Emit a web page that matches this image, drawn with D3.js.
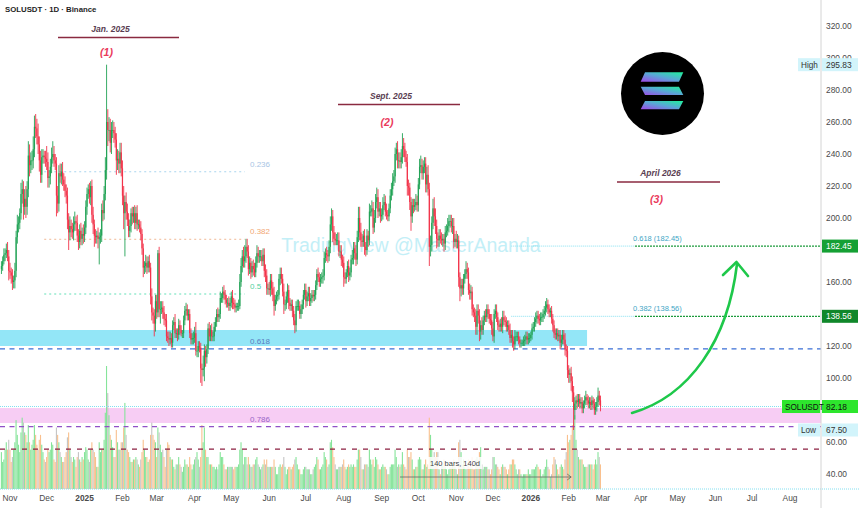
<!DOCTYPE html>
<html>
<head>
<meta charset="utf-8">
<script src="https://cdn.jsdelivr.net/npm/d3@7"></script>
<style>
  body { margin: 0; background: #fff; }
  svg { display: block; font-family: "Liberation Sans", Arial, sans-serif; }
</style>
</head>
<body>
<div id="chart"></div>
<script>
// --- DATA (daily SOLUSDT candles from 25 Oct 2024) ---

const firstDay = new Date(2024, 9, 25);
const firstOpen = 168;

const closes = [
  170,173,177,178,180,176,167,
  166,164,160,161,167,188,196,197,203,215,218,207,212,207,218,239,233,236,236,243,257,256,251,246,236,227,238,239,238,237,
  235,225,226,232,238,240,236,234,214,209,228,226,229,224,221,217,214,199,191,195,193,191,196,198,197,189,185,192,187,190,189,
  194,207,215,218,213,220,202,196,189,188,189,187,188,189,205,203,215,230,260,255,255,247,255,255,253,249,236,237,234,241,231,
  214,203,210,204,199,192,195,203,201,203,197,203,196,196,194,190,181,169,170,172,169,173,169,151,141,139,134,148,
  141,178,143,143,144,141,137,136,126,125,124,125,122,133,135,128,128,127,133,130,128,128,136,142,143,139,140,128,124,125,125,
  128,117,117,120,119,106,105,106,117,113,118,131,126,130,126,126,132,135,140,138,140,150,150,154,152,149,147,147,145,147,
  151,147,146,144,145,145,145,160,170,176,173,176,182,179,168,172,166,170,168,166,172,178,176,176,176,173,177,167,164,156,156,
  155,161,156,152,145,149,151,152,162,165,162,154,146,146,151,155,147,145,146,142,136,133,145,145,145,140,143,146,152,155,
  148,151,153,148,150,152,151,152,158,165,163,160,162,163,164,175,178,177,176,182,196,201,191,187,186,186,186,179,179,174,172,
  163,162,166,170,164,166,174,175,181,178,174,188,200,191,186,185,189,182,180,189,186,204,204,206,194,200,210,213,204,206,201,
  202,208,210,204,202,201,206,214,218,223,226,240,243,236,236,235,238,245,243,238,235,220,219,210,201,208,207,208,210,208,
  221,232,233,228,232,234,221,227,218,182,183,197,206,201,195,187,186,189,187,186,187,184,191,192,195,198,198,195,195,185,187,
  185,186,163,156,158,156,162,165,168,166,155,153,154,143,141,139,132,142,139,129,133,130,136,139,138,143,140,137,136,131,
  126,140,142,138,133,132,134,132,138,136,135,132,133,130,125,127,123,121,126,126,126,124,122,122,122,123,124,126,124,125,125,
  127,131,132,135,137,139,137,136,138,138,140,142,144,146,143,141,142,137,133,128,127,128,126,127,122,124,127,124,118,117,105,
  102,103,98,91,80,84,86,85,87,84,85,81,84,86,88,86,84,85,83,86,84,80,82,85,89,86,82.18
];

// wick length above the body and below the body, in price units
const wickHi = [
  3,3,4,3,4,5,4,
  5,3,4,3,5,4,6,4,3,7,6,5,6,8,5,9,7,5,6,8,7,8,6,8,5,6,5,4,3,4,
  8,6,4,5,6,8,5,4,4,6,5,6,5,6,4,5,4,5,4,6,4,4,5,6,3,5,4,4,5,4,6,
  4,4,4,3,4,3,4,5,3,4,3,5,3,4,4,6,5,8,35.83,8,8,7,5,6,5,4,4,6,5,6,6,
  5,6,4,6,5,4,4,3,4,4,5,4,5,3,3,4,3,3,3,5,4,3,4,3,5,3,4,4,
  4,2,4,5,4,4,4,3,4,3,4,4,3,3,3,5,3,3,4,3,3,2,3,3,4,3,3,3,3,3,4,
  4,7,3,3,3,3,3,8,4,3,3,3,4,3,4,3,3,3,3,4,3,4,3,3,4,3,3,3,4,3,
  3,4,3,3,2,2,4,5,5,4,6,7,5,5,4,4,3,3,4,4,4,5,4,4,4,4,4,4,4,4,3,
  4,4,4,4,5,3,3,3,3,4,4,3,5,3,3,4,3,3,3,3,3,4,3,4,4,3,3,3,3,4,
  4,3,4,4,3,3,3,3,3,3,4,3,3,3,4,4,3,4,3,4,5,5,4,4,4,4,5,5,4,4,3,
  4,3,2,3,4,3,3,5,4,4,5,4,7,7,6,4,3,4,3,4,3,5,4,5,4,5,5,6,5,4,4,
  4,5,5,4,5,3,3,4,4,5,4,4,4,5,5,5,5,8,5,4,4,5,4,3,3,4,4,4,5,4,
  4,5,6,4,4,4,4,5,6,4,6,4,6,7,5,4,4,4,4,4,3,3,4,4,5,4,4,4,5,5,3,
  5,4,3,3,4,4,3,3,5,4,3,4,4,3,3,3,4,4,4,4,3,5,3,3,4,3,3,3,3,4,
  4,3,4,4,3,3,3,4,4,4,3,3,3,3,4,3,3,3,4,3,3,3,2,2,2,3,3,3,3,3,3,
  2,3,3,3,4,3,3,3,3,3,3,3,4,4,3,3,2,3,3,3,3,3,3,3,3,3,3,3,4,3,3,
  3,3,4,3,4,4,3,4,3,3,3,3,2,3,4,2,3,3,3,3,2,3,3,3,5,3,3
];

const wickLo = [
  3,3,2,4,3,3,6,
  4,5,5,4,5,4,4,5,4,4,6,8,5,7,5,5,7,5,6,5,5,6,5,6,7,5,5,4,4,5,
  5,6,6,5,4,4,4,4,13,6,5,4,5,4,4,4,5,6,11,5,5,4,5,4,5,4,5,4,4,4,5,
  4,4,5,3,4,5,5,6,7,4,4,6,16,4,4,5,4,4,6,10,7,6,7,5,6,5,9,6,6,6,5,
  6,10,27,5,4,4,4,4,5,4,4,4,4,3,3,4,4,6,4,4,4,3,3,5,5,5,8,5,
  4,3,5,9,3,4,4,4,3,3,4,3,3,3,3,3,3,4,3,3,2,3,3,3,3,3,3,3,3,3,4,
  3,3,4,4,3,9,10,4,8,6,4,3,3,3,3,3,3,3,3,3,3,3,3,3,3,3,3,3,3,3,
  3,4,3,3,3,3,3,2,3,4,4,4,4,4,4,3,4,3,4,3,3,3,4,4,3,3,3,4,4,4,4,
  3,4,4,4,6,3,3,3,3,4,3,3,6,4,3,4,4,3,3,4,3,5,4,3,3,3,3,3,3,3,
  4,3,3,3,3,3,3,3,3,3,3,3,3,3,4,3,3,4,4,3,4,4,6,4,3,3,3,3,4,4,3,
  6,3,3,3,4,3,3,3,4,4,4,3,3,5,4,3,3,5,4,3,4,3,3,3,4,3,3,4,4,3,4,
  3,3,3,3,3,3,3,3,3,4,3,4,4,5,5,4,4,4,5,3,3,6,5,5,9,4,4,3,3,4,
  4,3,4,4,4,4,5,5,4,12,6,4,4,6,5,6,4,4,3,3,4,5,4,3,3,4,4,4,5,4,3,
  4,4,6,8,5,4,4,3,3,4,3,4,4,4,3,4,5,5,5,6,5,3,3,3,3,3,3,3,3,4,
  3,4,3,3,3,3,3,3,4,3,3,3,3,3,3,3,4,4,3,3,3,3,3,3,2,2,3,3,3,3,3,
  2,3,2,3,3,3,3,3,3,3,3,3,3,3,3,3,3,3,4,3,3,3,3,3,4,3,3,3,4,4,5,
  5,5,6,6,12.5,6,4,4,3,3,3,3,3,3,3,3,3,3,3,3,3,3,3,3,3,3,3
];

// relative daily volume
const volumes = [
  30,22,24,32,38,32,40,
  32,22,26,32,38,56,44,36,30,46,58,54,46,44,38,52,38,32,36,40,52,44,36,32,40,44,36,30,24,22,
  26,32,30,32,38,36,24,22,50,44,38,30,26,22,22,26,30,42,46,32,26,22,26,24,18,26,30,24,22,26,24,
  30,34,32,24,22,32,38,32,30,26,18,18,38,30,32,32,40,62,100,78,60,44,40,34,26,26,48,38,32,32,38,
  38,50,70,44,32,30,26,22,22,24,24,26,24,20,18,24,30,40,32,26,26,22,24,44,54,44,40,38,
  26,50,46,36,30,32,26,18,32,38,36,26,24,24,18,16,20,20,26,20,18,14,18,24,20,20,18,26,20,16,20,
  24,26,30,24,18,26,52,38,50,32,26,26,20,20,20,18,18,16,18,16,20,30,26,26,20,16,16,18,18,18,
  18,18,16,18,18,18,20,32,38,32,20,26,26,20,26,20,18,18,20,20,24,26,20,18,16,18,20,24,20,24,18,
  18,18,18,18,24,18,12,12,18,20,18,20,26,18,12,16,18,18,16,18,20,24,26,20,16,16,12,12,16,18,
  18,16,16,16,12,12,16,18,20,26,24,16,16,18,20,30,26,24,18,20,38,40,34,26,20,16,16,18,18,18,20,
  24,18,16,18,20,18,20,18,20,18,18,24,32,32,26,16,16,20,20,20,18,32,24,20,24,18,26,24,20,16,16,
  18,20,18,18,16,12,12,18,20,20,20,32,26,18,20,18,20,30,20,18,16,32,26,26,30,24,16,16,18,18,
  24,26,24,16,16,20,24,18,20,58,44,32,26,30,26,30,30,16,12,20,20,24,18,16,12,16,18,18,20,24,18,
  16,12,38,40,30,20,24,18,16,20,24,18,20,26,16,16,24,26,24,30,34,20,16,18,18,18,16,16,12,16,
  26,26,20,20,18,16,12,18,20,18,18,16,12,16,20,20,24,24,20,16,12,16,16,12,10,12,12,12,12,16,12,
  12,16,16,16,18,20,18,16,16,10,12,16,18,24,18,16,10,12,20,26,24,20,16,12,18,20,18,16,24,30,44,
  38,40,44,52,74,60,40,32,26,24,24,24,20,18,18,18,20,20,20,20,16,20,24,20,30,26,20
];

const monthLabels = ["Nov","Dec","2025","Feb","Mar","Apr","May","Jun","Jul","Aug","Sep","Oct",
                     "Nov","Dec","2026","Feb","Mar","Apr","May","Jun","Jul","Aug"];
// 180, 140 and 80 sit under the price tags, so they are not shown
const priceTicks = [320,300,280,260,240,220,200,160,120,100,60,40];

// fib retracement drawn over 2025 (left) and the target fib (right)
const fibRatios = ["0.236","0.382","0.5","0.618","0.786"];
const fibValues = [228.9, 186.7, 152.5, 118.2, 69.6];
const targetRatios = ["0.618","0.382"];
const targetValues = [182.45, 138.56];

const highValue = 295.83, lowValue = 67.50, lastValue = 82.18;
const supportBand = [120, 130];
const pinkBand = [71.9, 81.2];
const floorLine = 55.6;

// date range tool: first and last bar index, and its label
const rangeBars = [326, 466];
const rangeLabel = "140 bars, 140d";
</script>
<script>
const W = 860, H = 508;
const svg = d3.select("#chart").append("svg").attr("width", W).attr("height", H);

const x = d3.scaleTime().domain([new Date(2024, 10, 1), new Date(2026, 7, 1)]).range([10, 790]);
const y = d3.scaleLinear().domain([40, 320]).range([474, 26]);
const vy = d3.scaleLinear().domain([0, 100]).range([489, 366]);
const axisX = 821;

const dates = closes.map((c, i) => d3.timeDay.offset(firstDay, i));
const candles = closes.map((c, i) => {
  const o = i === 0 ? firstOpen : closes[i - 1];
  return { d: dates[i], o: o, c: c,
           h: Math.max(o, c) + wickHi[i], l: Math.min(o, c) - wickLo[i], v: volumes[i] };
});

const defs = svg.append("defs");
defs.append("clipPath").attr("id", "plot")
  .append("rect").attr("x", 0).attr("y", 0).attr("width", axisX).attr("height", H);

const plot = svg.append("g").attr("clip-path", "url(#plot)");

// watermark
plot.append("text").attr("x", 411).attr("y", 252).attr("text-anchor", "middle")
  .attr("font-size", 19.5).attr("fill", "#b0eaf5").attr("opacity", 0.75)
  .text("TradingView @MasterAnanda");

// bands
plot.append("rect").attr("x", 0).attr("width", x(new Date(2026, 1, 16)))
  .attr("y", y(supportBand[1])).attr("height", y(supportBand[0]) - y(supportBand[1]))
  .attr("fill", "#93e6f7");
plot.append("rect").attr("x", 0).attr("width", axisX)
  .attr("y", y(pinkBand[1])).attr("height", y(pinkBand[0]) - y(pinkBand[1]))
  .attr("fill", "#f7cdf4");

// volume
plot.selectAll("rect.vol").data(candles).enter().append("rect").attr("class", "vol")
  .attr("x", d => x(d.d) - 0.6).attr("width", 1.1)
  .attr("y", d => vy(d.v)).attr("height", d => vy(0) - vy(d.v))
  .attr("fill", (d, i) => d.c >= d.o ? "#86e49a" : (i % 3 === 0 ? "#c4c4c4" : "#f9c08e"));

// left fib levels
const fibColors = ["#a9d4ee", "#f0b894", "#63e0b8", "#3a6fd6", "#9050c8"];
const fibLabelColors = ["#a8c4e4", "#f2a874", "#50d0a0", "#5a7cc0", "#9a66c8"];
const fibStart = x(new Date(2024, 10, 29)), fibEnd = x(new Date(2025, 4, 12));
fibValues.forEach((v, i) => {
  if (i < 3) {
    plot.append("line").attr("x1", fibStart).attr("x2", fibEnd).attr("y1", y(v)).attr("y2", y(v))
      .attr("stroke", fibColors[i]).attr("stroke-width", 1).attr("stroke-dasharray", "2,3");
  } else {
    plot.append("line").attr("x1", 0).attr("x2", axisX).attr("y1", y(v)).attr("y2", y(v))
      .attr("stroke", fibColors[i]).attr("stroke-width", 1.4).attr("stroke-dasharray", "5,4.5");
  }
  plot.append("text").attr("x", 250).attr("y", y(v) - (i < 3 ? 5 : 4.5))
    .attr("font-size", 8).attr("fill", fibLabelColors[i]).text(fibRatios[i]);
});
plot.append("line").attr("x1", 0).attr("x2", axisX).attr("y1", y(floorLine)).attr("y2", y(floorLine))
  .attr("stroke", "#8c1f40").attr("stroke-width", 1.3).attr("stroke-dasharray", "5,6");

// current price line and bottom line
plot.append("line").attr("x1", 0).attr("x2", axisX).attr("y1", y(lastValue)).attr("y2", y(lastValue))
  .attr("stroke", "#82dff0").attr("stroke-dasharray", "1,1");
svg.append("line").attr("x1", 0).attr("x2", W).attr("y1", 489).attr("y2", 489)
  .attr("stroke", "#82dff0").attr("stroke-dasharray", "1,1");

// target fib lines
const tStart = x(new Date(2025, 11, 16)), tSplit = 635;
targetValues.forEach((v, i) => {
  plot.append("line").attr("x1", tStart).attr("x2", tSplit).attr("y1", y(v)).attr("y2", y(v))
    .attr("stroke", "#86e0f0").attr("stroke-dasharray", "1,1");
  plot.append("line").attr("x1", tSplit).attr("x2", axisX).attr("y1", y(v)).attr("y2", y(v))
    .attr("stroke", "#1c9a3c").attr("stroke-width", 1.3).attr("stroke-dasharray", "2,1");
  plot.append("text").attr("x", 633).attr("y", y(v) - 5).attr("font-size", 7.5)
    .attr("fill", "#40a6c6").text(targetRatios[i] + " (" + v.toFixed(2) + ")");
});

// candles
const cg = plot.append("g");
cg.selectAll("line").data(candles).enter().append("line")
  .attr("x1", d => x(d.d)).attr("x2", d => x(d.d))
  .attr("y1", d => y(d.h)).attr("y2", d => y(d.l))
  .attr("stroke", d => d.c >= d.o ? "#22a356" : "#f2334a").attr("stroke-width", 0.9);
cg.selectAll("rect").data(candles).enter().append("rect")
  .attr("x", d => x(d.d) - 0.6).attr("width", 1.2)
  .attr("y", d => y(Math.max(d.o, d.c)))
  .attr("height", d => Math.max(0.8, Math.abs(y(d.o) - y(d.c))))
  .attr("fill", d => d.c >= d.o ? "#22a356" : "#f2334a");

// date range measurement
const rx1 = x(dates[rangeBars[0]]), rx2 = x(dates[rangeBars[1]]);
plot.append("rect").attr("x", 428).attr("y", 457).attr("width", 54).attr("height", 12)
  .attr("fill", "#ffffff").attr("opacity", 0.85);
plot.append("text").attr("x", 455).attr("y", 466).attr("text-anchor", "middle")
  .attr("font-size", 7.5).attr("fill", "#444").text(rangeLabel);
plot.append("line").attr("x1", rx1).attr("x2", rx2).attr("y1", 477).attr("y2", 477)
  .attr("stroke", "#666").attr("stroke-width", 0.8);
plot.append("path").attr("d", `M${rx2 - 4},474 L${rx2},477 L${rx2 - 4},480`)
  .attr("fill", "none").attr("stroke", "#666").attr("stroke-width", 0.8);

// wave annotations
function wave(label, num, x1, x2, lineY, numY) {
  const cx = (x1 + x2) / 2;
  svg.append("text").attr("x", cx - 8).attr("y", lineY - 6).attr("text-anchor", "middle")
    .attr("font-size", 8.5).attr("font-weight", "bold").attr("font-style", "italic")
    .attr("fill", "#5a3e52").text(label);
  svg.append("line").attr("x1", x1).attr("x2", x2).attr("y1", lineY).attr("y2", lineY)
    .attr("stroke", "#8a2a40").attr("stroke-width", 1.3);
  svg.append("text").attr("x", cx - 12).attr("y", numY).attr("text-anchor", "middle")
    .attr("font-size", 10.5).attr("font-weight", "bold").attr("font-style", "italic")
    .attr("fill", "#ea3a5c").text(num);
}
wave("Jan. 2025", "(1)", 58, 179, 37.5, 56);
wave("Sept. 2025", "(2)", 338, 460, 104.5, 126);
wave("April 2026", "(3)", 617, 720, 182, 203);

// solana logo
const logo = svg.append("g");
const grad = defs.append("linearGradient").attr("id", "sol")
  .attr("x1", "0%").attr("y1", "100%").attr("x2", "100%").attr("y2", "0%");
grad.append("stop").attr("offset", "0%").attr("stop-color", "#a048e8");
grad.append("stop").attr("offset", "50%").attr("stop-color", "#5aa6d6");
grad.append("stop").attr("offset", "100%").attr("stop-color", "#1ef29a");
logo.append("circle").attr("cx", 662.5).attr("cy", 93.5).attr("r", 41.5).attr("fill", "#000");
const bars = [
  [[645, 72.3], [683.3, 72.3], [679, 81.7], [640.7, 81.7]],
  [[640.7, 86.7], [679, 86.7], [683.3, 95], [645, 95]],
  [[645, 101], [683.3, 101], [679, 109.3], [640.7, 109.3]]
];
bars.forEach(p => logo.append("path").attr("d", "M" + p.join("L") + "Z").attr("fill", "url(#sol)"));

// green arrow
svg.append("path").attr("d", "M632,413 C690,396 728,340 737,264")
  .attr("fill", "none").attr("stroke", "#1ec84a").attr("stroke-width", 2.6).attr("stroke-linecap", "round");
svg.append("path").attr("d", "M723,275 L736.5,262 L748,276")
  .attr("fill", "none").attr("stroke", "#1ec84a").attr("stroke-width", 2.6)
  .attr("stroke-linecap", "round").attr("stroke-linejoin", "round");

// title
svg.append("text").attr("x", 5).attr("y", 12).attr("font-size", 7.8).attr("font-weight", "bold")
  .attr("fill", "#1e1e1e").text("SOLUSDT · 1D · Binance");

// price axis
svg.append("line").attr("x1", axisX).attr("x2", axisX).attr("y1", 0).attr("y2", H)
  .attr("stroke", "#d4d4d4");
svg.selectAll("text.pt").data(priceTicks).enter().append("text").attr("class", "pt")
  .attr("x", 826).attr("y", d => y(d) + 3).attr("font-size", 8.4).attr("fill", "#4a4a4a")
  .text(d => d.toFixed(2));

function tag(yv, text, bg, fg, left, leftBg) {
  const yy = y(yv);
  svg.append("rect").attr("x", 822).attr("y", yy - 6.5).attr("width", 36).attr("height", 13).attr("fill", bg);
  svg.append("text").attr("x", 826).attr("y", yy + 3).attr("font-size", 8.4).attr("fill", fg).text(text);
  if (left) {
    const lw = left.length > 4 ? 39 : 23;
    svg.append("rect").attr("x", 821 - lw).attr("y", yy - 6.5).attr("width", lw - 1).attr("height", 13).attr("fill", leftBg);
    svg.append("text").attr("x", 821 - lw + 3).attr("y", yy + 3).attr("font-size", 8.2).attr("fill", fg).text(left);
  }
}
tag(highValue, highValue.toFixed(2), "#d2f4fb", "#333", "High", "#d2f4fb");
tag(targetValues[0], targetValues[0].toFixed(2), "#15a034", "#fff");
tag(targetValues[1], targetValues[1].toFixed(2), "#10872a", "#fff");
tag(lastValue, lastValue.toFixed(2), "#2de62d", "#111", "SOLUSDT", "#2de62d");
tag(lowValue, lowValue.toFixed(2), "#d2f4fb", "#333", "Low", "#d2f4fb");

// time axis
const months = d3.timeMonth.range(new Date(2024, 10, 1), new Date(2026, 7, 2));
svg.selectAll("text.mt").data(months).enter().append("text").attr("class", "mt")
  .attr("x", d => x(d)).attr("y", 501).attr("text-anchor", "middle")
  .attr("font-size", 8.4).attr("fill", "#4a4a4a")
  .attr("font-weight", (d, i) => /^\d+$/.test(monthLabels[i]) ? "bold" : "normal")
  .text((d, i) => monthLabels[i]);
</script>
</body>
</html>
